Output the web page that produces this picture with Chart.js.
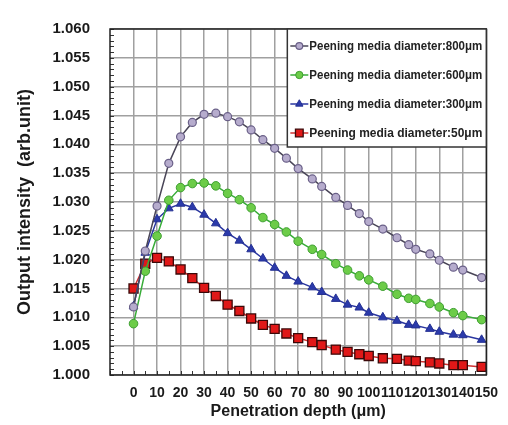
<!DOCTYPE html>
<html><head><meta charset="utf-8">
<script src="https://cdn.jsdelivr.net/npm/chart.js@4.4.1/dist/chart.umd.min.js"></script>
<style>html,body{margin:0;padding:0;background:#fff;}#wrap{width:508px;height:425px;}</style>
</head><body><div id="wrap"><canvas id="c" width="508" height="425"></canvas></div>
<script>
// Penetration depth (µm) of each measured point
const depths = [0,5,10,15,20,25,30,35,40,45,50,55,60,65,70,76,80,86,91,96,100,106,112,117,120,126,130,136,140,148];
// Output intensity for each peening media diameter
const s800 = [1.0118,1.0215,1.0293,1.0367,1.0413,1.0438,1.0452,1.0454,1.0448,1.0439,1.0425,1.0408,1.0393,1.0376,1.0358,1.0340,1.0327,1.0308,1.0294,1.0280,1.0266,1.0253,1.0238,1.0226,1.0218,1.0210,1.0199,1.0187,1.0182,1.0169];
const s600 = [1.0089,1.0180,1.0241,1.0303,1.0325,1.0332,1.0333,1.0328,1.0315,1.0304,1.0290,1.0273,1.0261,1.0248,1.0232,1.0218,1.0209,1.0193,1.0182,1.0172,1.0165,1.0154,1.0140,1.0133,1.0131,1.0124,1.0118,1.0108,1.0103,1.0096];
const s300 = [1.0119,1.0212,1.0270,1.0289,1.0297,1.0291,1.0278,1.0263,1.0246,1.0233,1.0218,1.0202,1.0186,1.0172,1.0162,1.0152,1.0144,1.0132,1.0122,1.0117,1.0108,1.0100,1.0094,1.0087,1.0086,1.0080,1.0075,1.0070,1.0069,1.0061];
const s50  = [1.0150,1.0193,1.0203,1.0197,1.0183,1.0168,1.0151,1.0137,1.0122,1.0111,1.0098,1.0087,1.0080,1.0072,1.0064,1.0057,1.0052,1.0044,1.0040,1.0036,1.0033,1.0029,1.0028,1.0025,1.0024,1.0022,1.0020,1.0017,1.0017,1.0014];
const seriesLabels = ['Peening media diameter:800μm','Peening media diameter:600μm','Peening media diameter:300μm','Peening media diameter:50μm'];
const xTickLabels = ['0','10','20','30','40','50','60','70','80','90','100','110','120','130','140','150'];
const yTickLabels = ['1.000','1.005','1.010','1.015','1.020','1.025','1.030','1.035','1.040','1.045','1.050','1.055','1.060'];
const xTitle = 'Penetration depth (μm)';
const yTitle = 'Output intensity  (arb.unit)';

const pts = vals => depths.map((d,i)=>({x:d,y:vals[i]}));
const FONT = '"Liberation Sans", Arial, sans-serif';

const decor = {
  id:'decor',
  beforeDatasetsDraw(chart){
    const {ctx, chartArea:a, scales:{x,y}} = chart;
    ctx.save();
    ctx.strokeStyle = '#333'; ctx.lineWidth = 1;
    ctx.beginPath();
    for (let k=0;k<=60;k++){
      const py = Math.round(y.getPixelForValue(1 + k*0.001))+0.5;
      ctx.moveTo(a.left, py); ctx.lineTo(a.left+4, py);
    }
    for (let k=-2;k<=30;k++){
      const px = Math.round(x.getPixelForValue(k*5))+0.5;
      ctx.moveTo(px, a.bottom); ctx.lineTo(px, a.bottom-4);
    }
    ctx.stroke();
    ctx.restore();
  },
  afterDatasetsDraw(chart){
    const {ctx, chartArea:a} = chart;
    ctx.save();
    ctx.strokeStyle = '#222'; ctx.lineWidth = 1.5;
    ctx.strokeRect(a.left, a.top, a.right-a.left, a.bottom-a.top);
    // legend box
    const w = 199, h = 118;
    const lx = a.right - w, ly = a.top;
    ctx.fillStyle = '#fff';
    ctx.fillRect(lx, ly, w, h);
    ctx.strokeStyle = '#333'; ctx.lineWidth = 1.5;
    ctx.strokeRect(lx, ly, w, h);
    chart.data.datasets.forEach((ds,i)=>{
      const cy = ly + 17 + i*29;
      ctx.strokeStyle = ds.borderColor; ctx.lineWidth = 1.5;
      ctx.beginPath(); ctx.moveTo(lx+3, cy); ctx.lineTo(lx+21, cy); ctx.stroke();
      ctx.fillStyle = ds.pointBackgroundColor; ctx.strokeStyle = ds.pointBorderColor; ctx.lineWidth = ds.pointBorderWidth;
      Chart.helpers.drawPoint(ctx, {pointStyle: ds.pointStyle, radius: ds.pointRadius*0.85, rotation:0, borderWidth: ds.pointBorderWidth}, lx+12, cy);
      ctx.font = 'bold 12.5px ' + FONT;
      ctx.fillStyle = '#222'; ctx.textAlign = 'left'; ctx.textBaseline = 'middle';
      const tx = lx + 22;
      const mw = ctx.measureText(ds.label).width;
      ctx.save();
      ctx.translate(tx, cy+0.5);
      ctx.scale(Math.min(1, 173/mw), 1);
      ctx.fillText(ds.label, 0, 0);
      ctx.restore();
    });
    ctx.restore();
  }
};

new Chart(document.getElementById('c'), {
  type:'line',
  data:{datasets:[
    {label:seriesLabels[0], data:pts(s800), borderColor:'#4a4658', borderWidth:1.5, pointStyle:'circle', pointRadius:4, pointBackgroundColor:'#b6accd', pointBorderColor:'#6a6088', pointBorderWidth:1.2},
    {label:seriesLabels[1], data:pts(s600), borderColor:'#38ac38', borderWidth:1.5, pointStyle:'circle', pointRadius:4.3, pointBackgroundColor:'#6ccc48', pointBorderColor:'#3d9e30', pointBorderWidth:1},
    {label:seriesLabels[2], data:pts(s300), borderColor:'#2a36a0', borderWidth:1.5, pointStyle:'triangle', pointRadius:5, pointBackgroundColor:'#2b3aab', pointBorderColor:'#243092', pointBorderWidth:1},
    {label:seriesLabels[3], data:pts(s50), borderColor:'#d03232', borderWidth:1.5, pointStyle:'rect', pointRadius:6.4, pointBackgroundColor:'#e01818', pointBorderColor:'#3a0808', pointBorderWidth:1.3}
  ]},
  options:{
    responsive:false, animation:false, devicePixelRatio:1,
    layout:{padding:{top:15,right:17,left:0,bottom:0}},
    plugins:{legend:{display:false}, tooltip:{enabled:false}},
    elements:{line:{tension:0}},
    scales:{
      x:{type:'linear', min:-10, max:150,
        afterBuildTicks:s=>{ s.ticks = xTickLabels.map(t=>({value:parseFloat(t)})); },
        afterFit:s=>{ s.height = 50; },
        grid:{color:'#a0a0a0', lineWidth:1.5, drawTicks:false},
        border:{display:false},
        ticks:{autoSkip:false, maxRotation:0, minRotation:0, padding:10, color:'#1a1a1a', font:{family:FONT, size:14, weight:'bold'},
          callback:(v)=>{ const i = xTickLabels.indexOf(String(v)); return i>=0 ? xTickLabels[i] : ''; }},
        title:{display:true, text:xTitle, color:'#1a1a1a', font:{family:FONT, size:16, weight:'bold'}, padding:{top:0,bottom:4}}
      },
      y:{type:'linear', min:1.0, max:1.06,
        afterBuildTicks:s=>{ s.ticks = yTickLabels.map(t=>({value:parseFloat(t)})); },
        afterFit:s=>{ s.width = 110; },
        grid:{color:'#a0a0a0', lineWidth:1.5, drawTicks:false},
        border:{display:false},
        ticks:{padding:20, color:'#1a1a1a', font:{family:FONT, size:15, weight:'bold'},
          callback:(v)=>Number(v).toFixed(3)},
        title:{display:true, text:yTitle, color:'#1a1a1a', font:{family:FONT, size:18, weight:'bold'}, padding:{top:14,bottom:0}}
      }
    }
  },
  plugins:[decor]
});
</script></body></html>
